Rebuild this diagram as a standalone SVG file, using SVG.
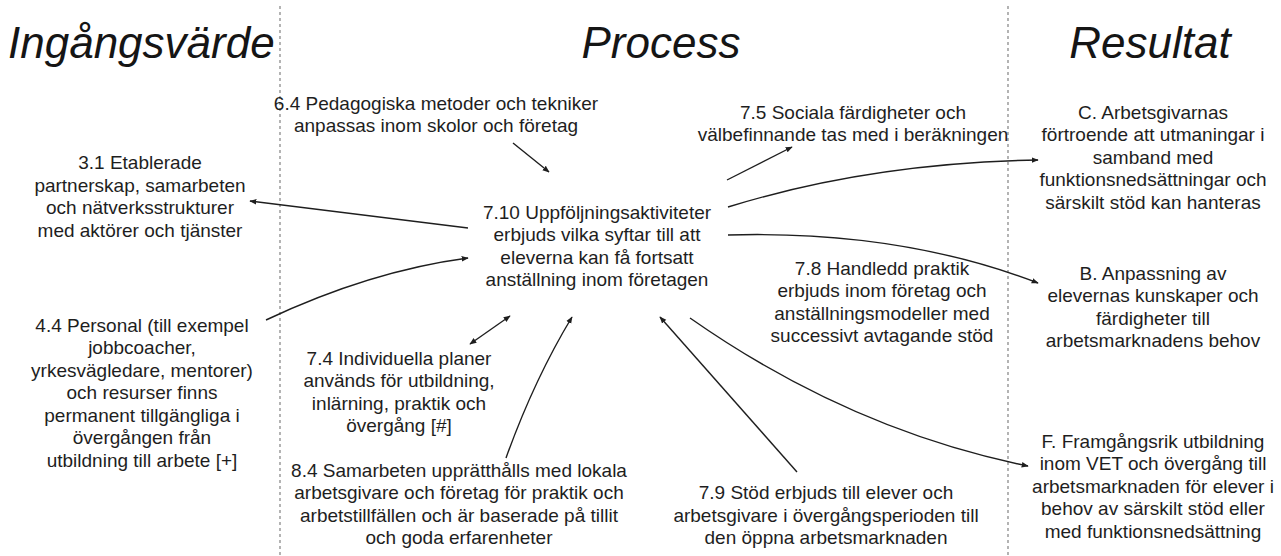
<svg xmlns="http://www.w3.org/2000/svg" width="1281" height="556" viewBox="0 0 1281 556">
  <style>
    .title { font-family: "Liberation Sans", Arial, sans-serif; font-style: italic; font-size: 44px; fill: #151515; }
    .lbl { font-family: "Liberation Sans", Arial, sans-serif; font-size: 19px; fill: #1e1e1e; text-anchor: middle; }
    .divider { stroke: #8c8c8c; stroke-width: 1.3; stroke-dasharray: 3 3; fill: none; }
    .edge { stroke: #1e1e1e; stroke-width: 1.4; fill: none; marker-end: url(#head); }
    .both { marker-start: url(#tail); }
  </style>
  <defs>
    <marker id="head" viewBox="0 0 10 10" refX="9" refY="5" markerWidth="7" markerHeight="7" markerUnits="userSpaceOnUse" orient="auto">
      <path d="M0,1 L10,5 L0,9 z" fill="#1e1e1e"/>
    </marker>
    <marker id="tail" viewBox="0 0 10 10" refX="1" refY="5" markerWidth="7" markerHeight="7" markerUnits="userSpaceOnUse" orient="auto">
      <path d="M10,1 L0,5 L10,9 z" fill="#1e1e1e"/>
    </marker>
  </defs>
  <rect width="1281" height="556" fill="#ffffff"/>

  <!-- column dividers -->
  <g id="dividers">
    <line class="divider" x1="280" y1="6" x2="280" y2="556"/>
    <line class="divider" x1="1008" y1="6" x2="1008" y2="556"/>
  </g>

  <!-- column headings -->
  <g id="headings">
    <text class="title" x="8" y="58">Ingångsvärde</text>
    <text class="title" x="661" y="58" text-anchor="middle">Process</text>
    <text class="title" x="1150" y="58" text-anchor="middle">Resultat</text>
  </g>

  <g id="n31">
    <text class="lbl" x="140" y="169">3.1 Etablerade</text>
    <text class="lbl" x="140" y="191.5">partnerskap, samarbeten</text>
    <text class="lbl" x="140" y="214">och nätverksstrukturer</text>
    <text class="lbl" x="140" y="236.5">med aktörer och tjänster</text>
  </g>

  <g id="n44">
    <text class="lbl" x="142" y="331.5">4.4 Personal (till exempel</text>
    <text class="lbl" x="142" y="354">jobbcoacher,</text>
    <text class="lbl" x="142" y="376.5">yrkesvägledare, mentorer)</text>
    <text class="lbl" x="142" y="399">och resurser finns</text>
    <text class="lbl" x="142" y="421.5">permanent tillgängliga i</text>
    <text class="lbl" x="142" y="444">övergången från</text>
    <text class="lbl" x="142" y="466.5">utbildning till arbete [+]</text>
  </g>

  <g id="n64">
    <text class="lbl" x="436" y="109.5">6.4 Pedagogiska metoder och tekniker</text>
    <text class="lbl" x="436" y="132">anpassas inom skolor och företag</text>
  </g>

  <g id="n75">
    <text class="lbl" x="853" y="118.5">7.5 Sociala färdigheter och</text>
    <text class="lbl" x="853" y="141">välbefinnande tas med i beräkningen</text>
  </g>

  <g id="n710">
    <text class="lbl" x="597" y="218.5">7.10 Uppföljningsaktiviteter</text>
    <text class="lbl" x="597" y="241">erbjuds vilka syftar till att</text>
    <text class="lbl" x="597" y="263.5">eleverna kan få fortsatt</text>
    <text class="lbl" x="597" y="286">anställning inom företagen</text>
  </g>

  <g id="n78">
    <text class="lbl" x="882" y="274.5">7.8 Handledd praktik</text>
    <text class="lbl" x="882" y="297">erbjuds inom företag och</text>
    <text class="lbl" x="882" y="319.5">anställningsmodeller med</text>
    <text class="lbl" x="882" y="342">successivt avtagande stöd</text>
  </g>

  <g id="n74">
    <text class="lbl" x="399" y="364.5">7.4 Individuella planer</text>
    <text class="lbl" x="399" y="387">används för utbildning,</text>
    <text class="lbl" x="399" y="409.5">inlärning, praktik och</text>
    <text class="lbl" x="399" y="432">övergång [#]</text>
  </g>

  <g id="n84">
    <text class="lbl" x="459" y="476.5">8.4 Samarbeten upprätthålls med lokala</text>
    <text class="lbl" x="459" y="499">arbetsgivare och företag för praktik och</text>
    <text class="lbl" x="459" y="521.5">arbetstillfällen och är baserade på tillit</text>
    <text class="lbl" x="459" y="544">och goda erfarenheter</text>
  </g>

  <g id="n79">
    <text class="lbl" x="826" y="499">7.9 Stöd erbjuds till elever och</text>
    <text class="lbl" x="826" y="521.5">arbetsgivare i övergångsperioden till</text>
    <text class="lbl" x="826" y="544">den öppna arbetsmarknaden</text>
  </g>

  <g id="resC">
    <text class="lbl" x="1153" y="118.5">C. Arbetsgivarnas</text>
    <text class="lbl" x="1153" y="141">förtroende att utmaningar i</text>
    <text class="lbl" x="1153" y="163.5">samband med</text>
    <text class="lbl" x="1153" y="186">funktionsnedsättningar och</text>
    <text class="lbl" x="1153" y="208.5">särskilt stöd kan hanteras</text>
  </g>

  <g id="resB">
    <text class="lbl" x="1153" y="279.5">B. Anpassning av</text>
    <text class="lbl" x="1153" y="302">elevernas kunskaper och</text>
    <text class="lbl" x="1153" y="324.5">färdigheter till</text>
    <text class="lbl" x="1153" y="347">arbetsmarknadens behov</text>
  </g>

  <g id="resF">
    <text class="lbl" x="1153" y="447.5">F. Framgångsrik utbildning</text>
    <text class="lbl" x="1153" y="470">inom VET och övergång till</text>
    <text class="lbl" x="1153" y="492.5">arbetsmarknaden för elever i</text>
    <text class="lbl" x="1153" y="515">behov av särskilt stöd eller</text>
    <text class="lbl" x="1153" y="537.5">med funktionsnedsättning</text>
  </g>

  <!-- connectors -->
  <g id="connectors">
    <path class="edge" d="M513,143 L549,172"/>
    <path class="edge" d="M727,180 L792,147"/>
    <path class="edge" d="M728,207 Q870,163 1038,160"/>
    <path class="edge" d="M728,235 Q900,230 1038,283"/>
    <path class="edge" d="M468,228 L250,201"/>
    <path class="edge" d="M266,320 Q370,271 468,258"/>
    <path class="edge both" d="M470,344 L510,316"/>
    <path class="edge" d="M506,458 Q534,380 572,317"/>
    <path class="edge" d="M797,472 L660,317"/>
    <path class="edge" d="M690,318 Q850,430 1028,466"/>
  </g>
</svg>
